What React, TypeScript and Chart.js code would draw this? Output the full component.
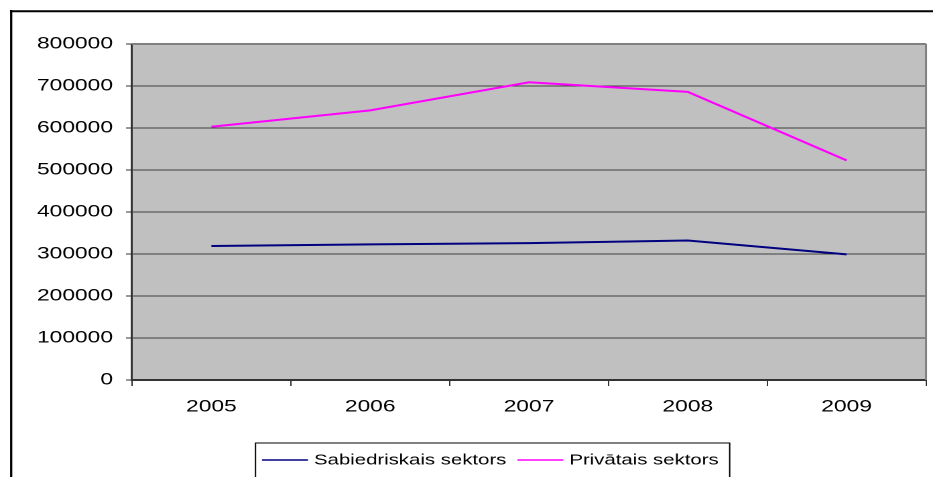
import React, { useEffect, useRef } from "react";
import { Chart, registerables } from "chart.js";

Chart.register(...registerables);

// ---- data ----
const categories = ["2005", "2006", "2007", "2008", "2009"];
const publicSector = [319000, 323000, 326000, 332000, 299000];
const privateSector = [603000, 642000, 709000, 686000, 523000];
const seriesLabels = ["Sabiedriskais sektors", "Privātais sektors"];
const seriesColors = ["#000080", "#FF00FF"];
const yMin = 0;
const yMax = 800000;
const yStep = 100000;

// ---- layout helpers ----
const W = 933;
const H = 477;
const LW = 696; // logical canvas width, stretched horizontally to W
const SX = W / LW;
const px = (v: number) => v / SX; // visual x -> logical x
const FONT = "'Liberation Sans', Arial, sans-serif";

const framePlugin = {
  id: "frame",
  beforeDraw(chart: any) {
    const { ctx, chartArea: a } = chart;
    ctx.save();
    ctx.fillStyle = "#C0C0C0";
    ctx.fillRect(a.left, a.top, a.right - a.left, a.bottom - a.top);
    ctx.restore();
  },
  afterDraw(chart: any) {
    const { ctx, chartArea: a } = chart;
    ctx.save();
    // plot area top / right border
    ctx.strokeStyle = "#808080";
    ctx.lineWidth = 2;
    ctx.beginPath();
    ctx.moveTo(a.left, a.top);
    ctx.lineTo(a.right, a.top);
    ctx.stroke();
    ctx.lineWidth = px(2);
    ctx.beginPath();
    ctx.moveTo(a.right, a.top);
    ctx.lineTo(a.right, a.bottom);
    ctx.stroke();

    // outer chart frame (left & top visible)
    ctx.strokeStyle = "#000";
    ctx.lineWidth = 2;
    ctx.beginPath();
    ctx.moveTo(px(10), 11.2);
    ctx.lineTo(chart.width + 5, 11.2);
    ctx.stroke();
    ctx.lineWidth = px(2.2);
    ctx.beginPath();
    ctx.moveTo(px(11.2), 10);
    ctx.lineTo(px(11.2), H + 5);
    ctx.stroke();

    // legend
    const boxLeft = px(255.5);
    const boxTop = 443;
    const lineLen = px(46);
    const lineGap = px(6);
    const itemGap = px(11);
    const ly = 460;
    ctx.font = `15.2px ${FONT}`;
    ctx.textBaseline = "middle";
    ctx.textAlign = "left";
    let x = boxLeft + px(6.5);
    const ds = chart.data.datasets;
    ds.forEach((d: any, i: number) => {
      ctx.strokeStyle = d.borderColor;
      ctx.lineWidth = 1.5;
      ctx.beginPath();
      ctx.moveTo(x, ly);
      ctx.lineTo(x + lineLen, ly);
      ctx.stroke();
      x += lineLen + lineGap;
      ctx.fillStyle = "#000";
      ctx.fillText(d.label, x, ly + 0.5);
      x += ctx.measureText(d.label).width;
      if (i < ds.length - 1) x += itemGap;
    });
    const boxRight = x + px(11);
    ctx.strokeStyle = "#000";
    ctx.lineWidth = 1;
    ctx.beginPath();
    ctx.moveTo(boxLeft, H + 5);
    ctx.lineTo(boxLeft, boxTop);
    ctx.lineTo(boxRight, boxTop);
    ctx.lineTo(boxRight, H + 5);
    ctx.stroke();
    ctx.restore();
  },
};

export default function App() {
  const canvasRef = useRef<HTMLCanvasElement | null>(null);

  useEffect(() => {
    const canvas = canvasRef.current;
    if (!canvas) return;
    const chart = new Chart(canvas, {
      type: "line",
      data: {
        labels: categories,
        datasets: [
          {
            label: seriesLabels[0],
            data: publicSector,
            borderColor: seriesColors[0],
            backgroundColor: seriesColors[0],
            borderWidth: 2,
            pointRadius: 0,
            tension: 0,
            fill: false,
          },
          {
            label: seriesLabels[1],
            data: privateSector,
            borderColor: seriesColors[1],
            backgroundColor: seriesColors[1],
            borderWidth: 2,
            pointRadius: 0,
            tension: 0,
            fill: false,
          },
        ],
      },
      options: {
        responsive: false,
        animation: false,
        devicePixelRatio: 2,
        layout: {
          padding: { top: 44, right: LW - px(926), left: 0, bottom: 0 },
        },
        plugins: {
          legend: { display: false },
          tooltip: { enabled: false },
          title: { display: false },
        },
        scales: {
          x: {
            type: "category",
            offset: true,
            grid: {
              offset: true,
              drawOnChartArea: false,
              drawTicks: true,
              tickLength: 6,
              color: "#333",
              lineWidth: 1,
            },
            border: { display: true, color: "#333", width: 2 },
            ticks: {
              color: "#000",
              font: { family: FONT, size: 17 },
              padding: 10.8,
              maxRotation: 0,
              autoSkip: false,
            },
            afterFit: (s: any) => {
              s.height = H - 380;
            },
          },
          y: {
            type: "linear",
            min: yMin,
            max: yMax,
            ticks: {
              stepSize: yStep,
              color: "#000",
              font: { family: FONT, size: 17 },
              padding: 9.7,
              callback: (v: any) => String(v),
            },
            grid: {
              color: (c: any) =>
                c.tick && c.tick.value === yMax ? "#808080" : "#404040",
              lineWidth: 1,
              drawTicks: true,
              tickLength: px(6),
              tickColor: "#333",
            },
            border: { display: true, color: "#333", width: px(2) },
            afterFit: (s: any) => {
              s.width = px(132);
            },
          },
        },
      },
      plugins: [framePlugin],
    } as any);
    return () => chart.destroy();
  }, []);

  return (
    <div
      style={{
        position: "absolute",
        left: 0,
        top: 0,
        width: W,
        height: H,
        overflow: "hidden",
        background: "#fff",
      }}
    >
      <canvas
        ref={canvasRef}
        width={LW}
        height={H}
        style={{
          display: "block",
          width: `${LW}px`,
          height: `${H}px`,
          transform: `scaleX(${SX})`,
          transformOrigin: "0 0",
        }}
      />
    </div>
  );
}
